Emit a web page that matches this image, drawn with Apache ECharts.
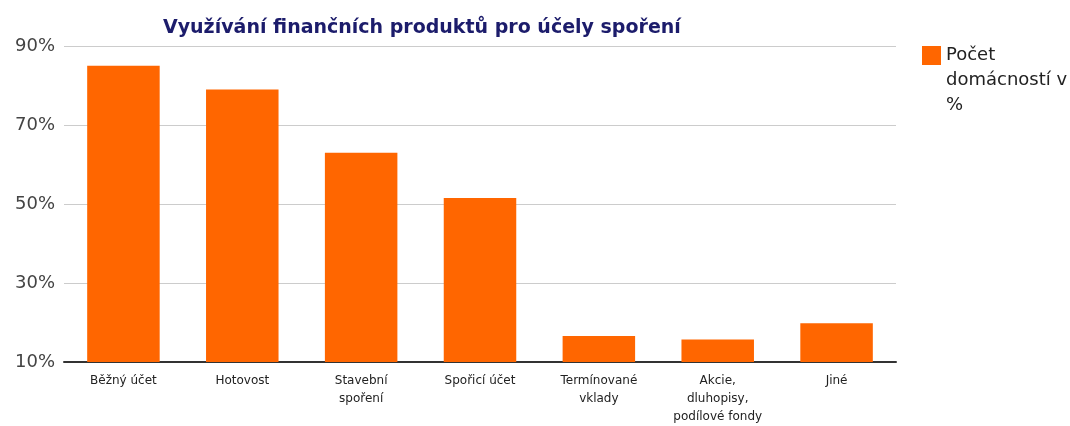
<!DOCTYPE html>
<html>
<head>
<meta charset="utf-8">
<script src="https://cdn.jsdelivr.net/npm/echarts@6/dist/echarts.min.js"></script>
<style>
  html, body { margin: 0; padding: 0; background: #fff; }
  #chart { width: 1070px; height: 426px; }
</style>
</head>
<body>
<div id="chart"></div>
<script>
const categories = ["Běžný účet", "Hotovost", "Stavební\nspoření", "Spořicí účet", "Termínované\nvklady", "Akcie,\ndluhopisy,\npodílové fondy", "Jiné"];
const households = [85, 79, 63, 51.5, 16.6, 15.7, 19.8];
const seriesName = "Počet domácností v %";

const chart = echarts.init(document.getElementById("chart"));

chart.setOption({
  animation: false,
  textStyle: { fontFamily: "DejaVu Sans, sans-serif" },
  title: {
    text: "Využívání finančních produktů pro účely spoření",
    left: 158,
    top: 14,
    textStyle: { fontSize: 19, fontWeight: "bold", color: "#1c1c6b" },
  },
  legend: {
    left: 917,
    top: -12,
    itemWidth: 19,
    itemHeight: 19,
    itemGap: 8,
    icon: "rect",
    // leading blank lines keep the swatch level with the first text line
    formatter: () => "\n\nPočet\ndomácností v\n%",
    textStyle: { fontSize: 18, color: "#222", lineHeight: 25 },
    data: [seriesName],
  },
  grid: { left: 64, right: 174, top: 46, bottom: 64 },
  xAxis: {
    type: "category",
    data: categories,
    axisTick: { show: false },
    axisLine: { lineStyle: { color: "#333", width: 2 } },
    axisLabel: { fontSize: 12, color: "#222", margin: 10, lineHeight: 18, interval: 0 },
  },
  yAxis: {
    type: "value",
    min: 10,
    max: 90,
    interval: 20,
    axisLine: { show: false },
    axisTick: { show: false },
    splitLine: { lineStyle: { color: "#cccccc" } },
    axisLabel: { formatter: "{value}%", fontSize: 18, color: "#444", margin: 9 },
  },
  series: [
    {
      name: seriesName,
      type: "bar",
      data: households,
      barWidth: "61%",
      itemStyle: { color: "#ff6600" },
    },
  ],
});
</script>
</body>
</html>
